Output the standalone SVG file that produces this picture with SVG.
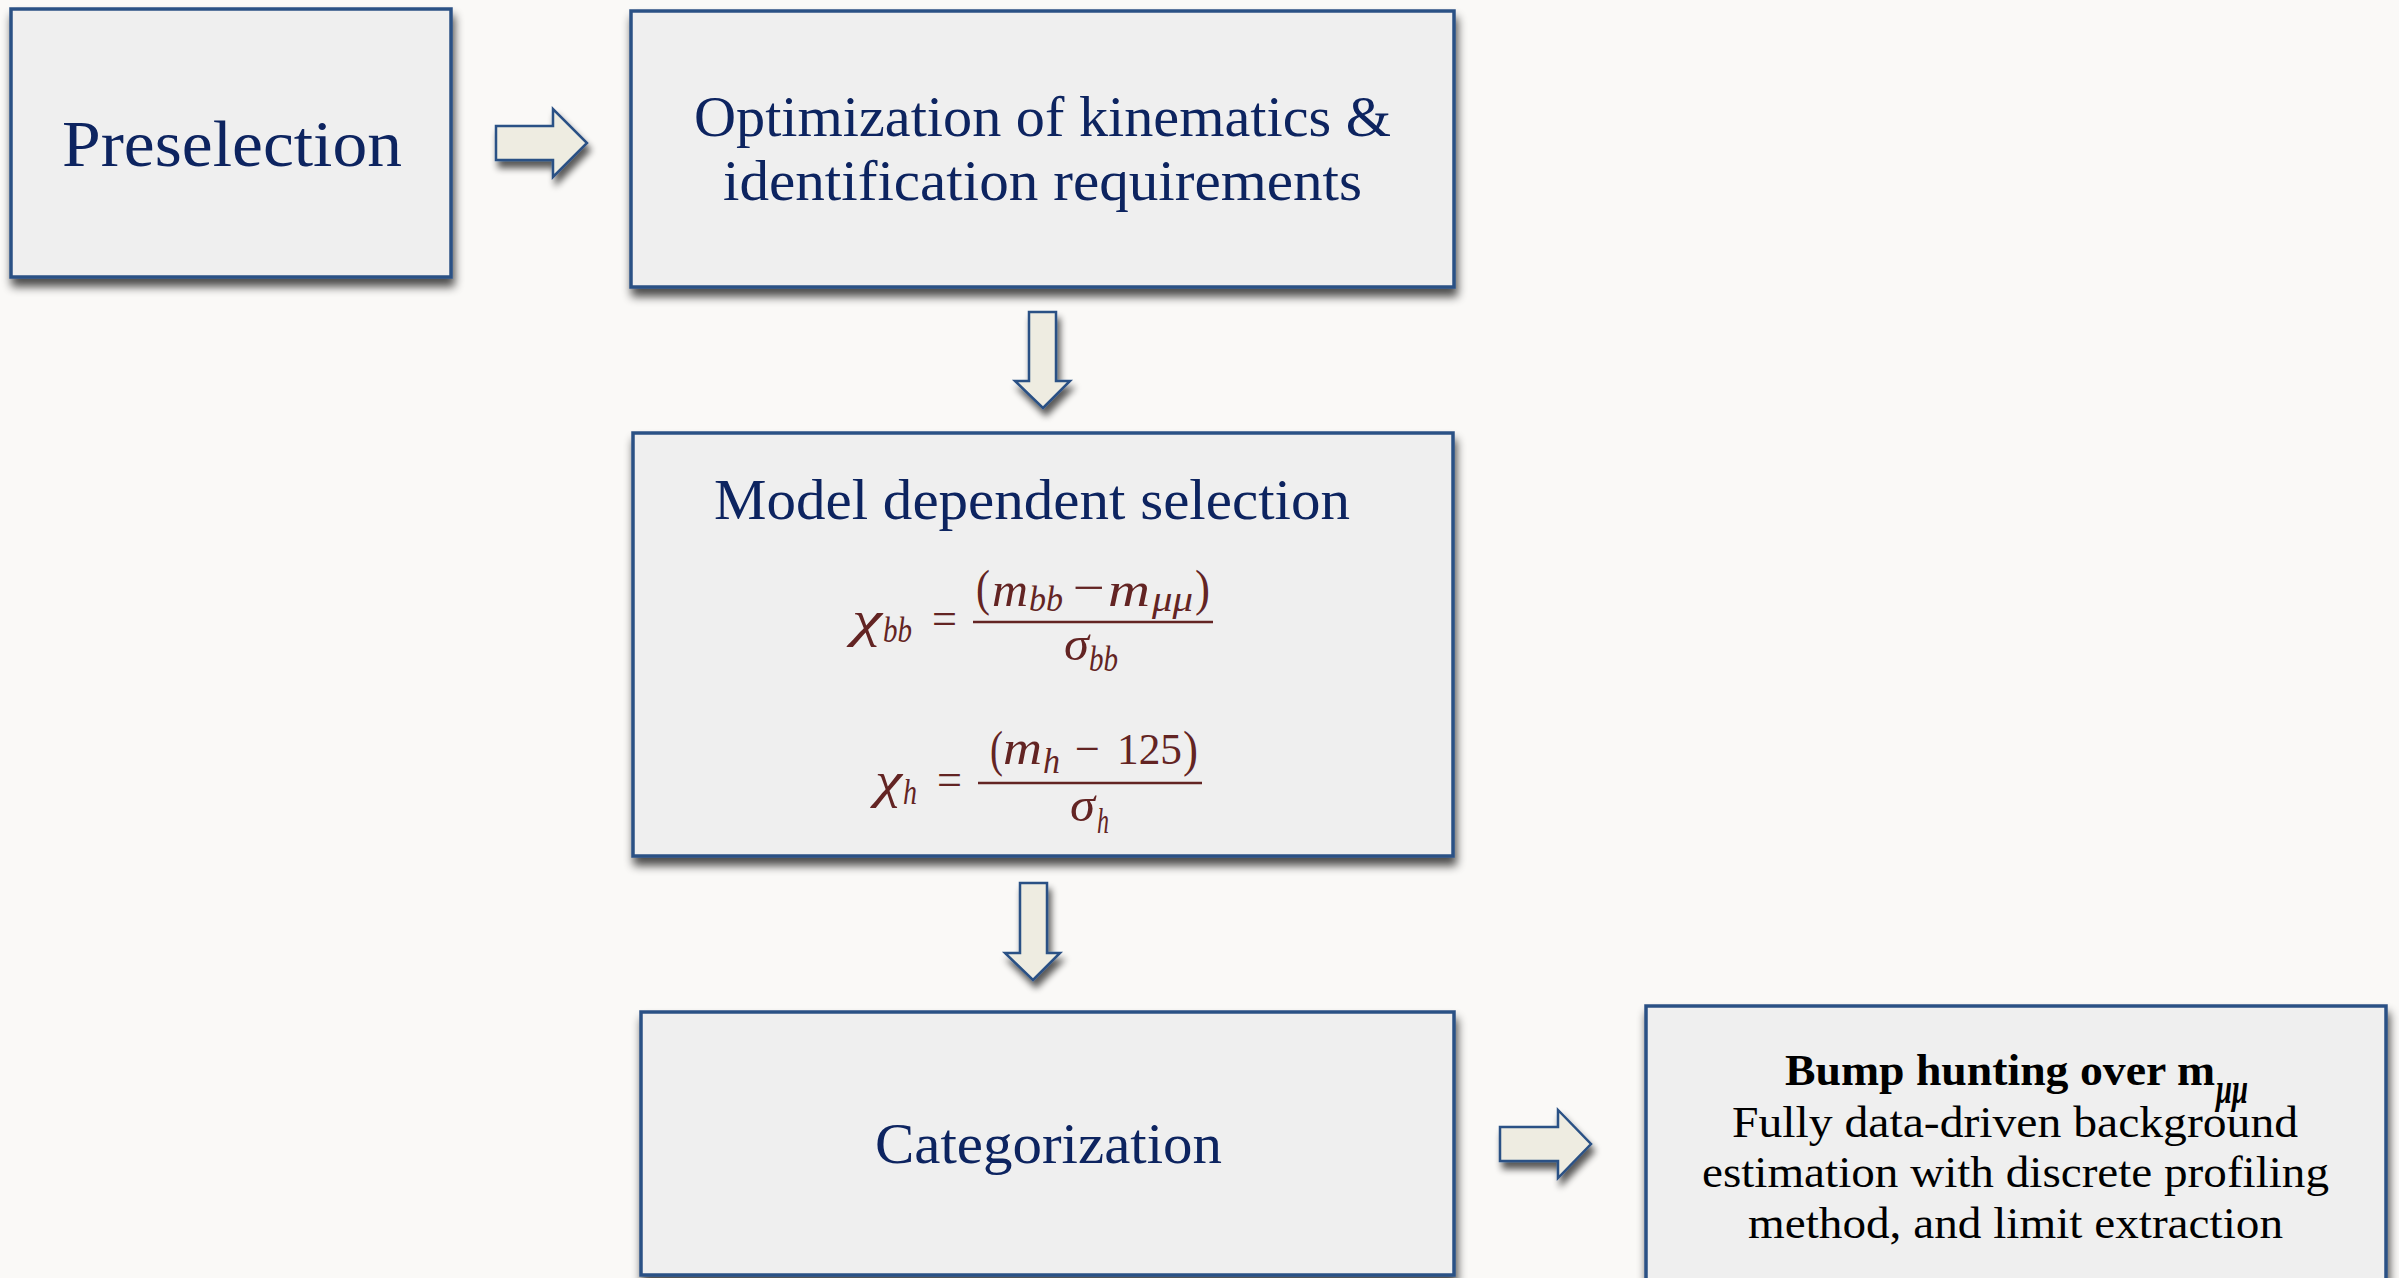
<svg xmlns="http://www.w3.org/2000/svg" width="2399" height="1278" viewBox="0 0 2399 1278">
  <defs>
    <filter id="boxShadow" x="-5%" y="-5%" width="112%" height="118%">
      <feGaussianBlur in="SourceAlpha" stdDeviation="5"/>
      <feOffset dx="2" dy="8" result="off"/>
      <feComponentTransfer><feFuncA type="linear" slope="0.7"/></feComponentTransfer>
      <feMerge><feMergeNode/><feMergeNode in="SourceGraphic"/></feMerge>
    </filter>
    <filter id="arrowShadow" x="-30%" y="-30%" width="170%" height="170%">
      <feGaussianBlur in="SourceAlpha" stdDeviation="3.5"/>
      <feOffset dx="3" dy="7" result="off"/>
      <feComponentTransfer><feFuncA type="linear" slope="0.65"/></feComponentTransfer>
      <feMerge><feMergeNode/><feMergeNode in="SourceGraphic"/></feMerge>
    </filter>
    <style>
      .box { fill: #efefef; stroke: #2b5185; stroke-width: 3.5; filter: url(#boxShadow); }
      .arrow { fill: #eeece1; stroke: #2b5185; stroke-width: 2.5; stroke-linejoin: miter; filter: url(#arrowShadow); }
      .title { font-family: "Liberation Serif", "DejaVu Serif", serif; fill: #0d2460; }
      .body { font-family: "Liberation Serif", "DejaVu Serif", serif; fill: #000; font-size: 45px; }
      .math { font-family: "Liberation Serif", "DejaVu Serif", serif; fill: #632423; font-style: italic; }
      .up { font-style: normal; }
      .bar { stroke: #632423; stroke-width: 2.5; }
    </style>
  </defs>

  <rect x="0" y="0" width="2399" height="1278" fill="#faf9f7"/>

  <!-- step arrows -->
  <g id="connectors">
    <polygon class="arrow" points="496,126 553,126 553,109 587,143 553,177 553,160 496,160"/>
    <polygon class="arrow" points="1029,312 1056,312 1056,381 1070,381 1043,408 1015,381 1029,381"/>
    <polygon class="arrow" points="1020,883 1047,883 1047,953 1060,953 1033,980 1005,953 1020,953"/>
    <polygon class="arrow" points="1500,1127 1558,1127 1558,1110 1591,1144 1558,1178 1558,1161 1500,1161"/>
  </g>

  <g id="preselection">
    <rect class="box" x="11" y="9" width="440" height="268"/>
    <text class="title" x="62" y="166" font-size="66" textLength="340" lengthAdjust="spacingAndGlyphs">Preselection</text>
  </g>

  <g id="optimization">
    <rect class="box" x="631" y="11" width="823" height="276"/>
    <text class="title" x="694" y="136" font-size="57" textLength="697" lengthAdjust="spacingAndGlyphs">Optimization of kinematics &amp;</text>
    <text class="title" x="723" y="200" font-size="57" textLength="639" lengthAdjust="spacingAndGlyphs">identification requirements</text>
  </g>

  <g id="model-dependent-selection">
    <rect class="box" x="633" y="433" width="820" height="423"/>
    <text class="title" x="714" y="519" font-size="57" textLength="636" lengthAdjust="spacingAndGlyphs">Model dependent selection</text>

    <!-- chi_bb = (m_bb - m_mumu) / sigma_bb -->
    <text class="math" x="852" y="636" font-size="50" textLength="30" lengthAdjust="spacingAndGlyphs">χ</text>
    <text class="math" x="883" y="642" font-size="35" textLength="29" lengthAdjust="spacingAndGlyphs">bb</text>
    <text class="math up" x="932" y="634" font-size="46" textLength="25" lengthAdjust="spacingAndGlyphs">=</text>
    <line class="bar" x1="973" y1="622" x2="1213" y2="622"/>
    <text class="math up" x="976" y="605" font-size="50" textLength="14" lengthAdjust="spacingAndGlyphs">(</text>
    <text class="math" x="992" y="606" font-size="48" textLength="36" lengthAdjust="spacingAndGlyphs">m</text>
    <text class="math" x="1029" y="611" font-size="35" textLength="34" lengthAdjust="spacingAndGlyphs">bb</text>
    <text class="math up" x="1073" y="603" font-size="46" textLength="32" lengthAdjust="spacingAndGlyphs">−</text>
    <text class="math" x="1108" y="606" font-size="48" textLength="42" lengthAdjust="spacingAndGlyphs">m</text>
    <text class="math" x="1152" y="611" font-size="35" textLength="41" lengthAdjust="spacingAndGlyphs">μμ</text>
    <text class="math up" x="1195" y="605" font-size="50" textLength="15" lengthAdjust="spacingAndGlyphs">)</text>
    <text class="math" x="1064" y="660" font-size="48" textLength="25" lengthAdjust="spacingAndGlyphs">σ</text>
    <text class="math" x="1089" y="671" font-size="35" textLength="29" lengthAdjust="spacingAndGlyphs">bb</text>

    <!-- chi_h = (m_h - 125) / sigma_h -->
    <text class="math" x="875" y="797" font-size="50" textLength="27" lengthAdjust="spacingAndGlyphs">χ</text>
    <text class="math" x="903" y="804" font-size="35" textLength="14" lengthAdjust="spacingAndGlyphs">h</text>
    <text class="math up" x="937" y="795" font-size="46" textLength="25" lengthAdjust="spacingAndGlyphs">=</text>
    <line class="bar" x1="978" y1="783" x2="1202" y2="783"/>
    <text class="math up" x="990" y="766" font-size="50" textLength="13" lengthAdjust="spacingAndGlyphs">(</text>
    <text class="math" x="1003" y="764" font-size="48" textLength="39" lengthAdjust="spacingAndGlyphs">m</text>
    <text class="math" x="1043" y="773" font-size="35" textLength="17" lengthAdjust="spacingAndGlyphs">h</text>
    <text class="math up" x="1075" y="764" font-size="46" textLength="25" lengthAdjust="spacingAndGlyphs">−</text>
    <text class="math up" x="1117" y="764" font-size="44" textLength="65" lengthAdjust="spacingAndGlyphs">125</text>
    <text class="math up" x="1183" y="766" font-size="50" textLength="15" lengthAdjust="spacingAndGlyphs">)</text>
    <text class="math" x="1070" y="821" font-size="48" textLength="25" lengthAdjust="spacingAndGlyphs">σ</text>
    <text class="math" x="1097" y="833" font-size="35" textLength="12" lengthAdjust="spacingAndGlyphs">h</text>
  </g>

  <g id="categorization">
    <rect class="box" x="641" y="1012" width="813" height="263"/>
    <text class="title" x="875" y="1163" font-size="57" textLength="347" lengthAdjust="spacingAndGlyphs">Categorization</text>
  </g>

  <g id="bump-hunting">
    <rect class="box" x="1646" y="1006" width="740" height="300"/>
    <text class="body" x="1785" y="1085" font-weight="bold" textLength="430" lengthAdjust="spacingAndGlyphs">Bump hunting over m</text>
    <text class="body" x="2216" y="1103" font-size="28" font-weight="bold" font-style="italic" textLength="32" lengthAdjust="spacingAndGlyphs">μμ</text>
    <text class="body" x="1732" y="1137" textLength="566" lengthAdjust="spacingAndGlyphs">Fully data-driven background</text>
    <text class="body" x="1702" y="1187" textLength="627" lengthAdjust="spacingAndGlyphs">estimation with discrete profiling</text>
    <text class="body" x="1748" y="1238" textLength="535" lengthAdjust="spacingAndGlyphs">method, and limit extraction</text>
  </g>
</svg>
